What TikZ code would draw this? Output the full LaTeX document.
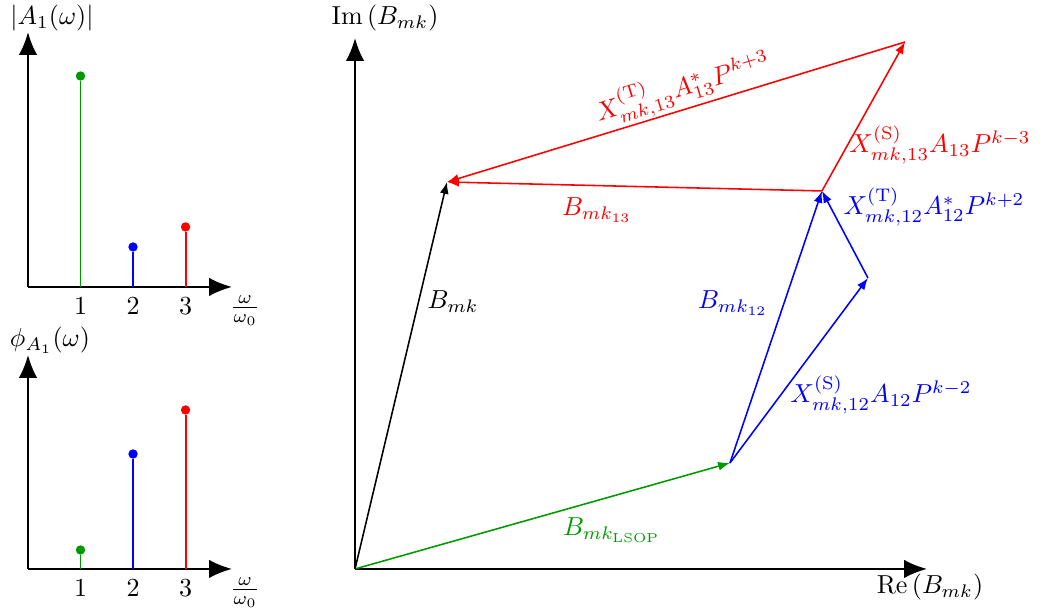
\documentclass[tikz,border=0pt]{standalone}
\usepackage{amsmath}
\usepackage{tikz}
\usetikzlibrary{arrows.meta,positioning}
\definecolor{lsop}{rgb}{0,0.6,0}
\tikzset{
  axis/.style={-{Latex[length=3.1mm,width=2.5mm]},thick,draw=black},
  vec/.style={-{Latex[length=1.6mm,width=1.2mm]},semithick,draw=#1},
  vec/.default=black,
  stem/.style={line width=0.75pt,draw=#1},
  dot/.style={circle,fill=#1,inner sep=0pt,minimum size=3.6pt},
  lab/.style={text=#1,inner sep=1pt},
  lab/.default=black,
}

\begin{document}
\begin{tikzpicture}[x=1cm,y=1cm]
  \useasboundingbox (0,0) rectangle (14.108,8.262);
  % amplitude spectrum
  \begin{scope}[shift={(0.378,4.388)}]
    \coordinate (a0) at (0,0);
    \coordinate (ax) at (2.754,0);
    \coordinate (ay) at (0,3.442);
    \draw[axis] (a0) -- (ax);
    \draw[axis] (a0) -- (ay);
    \foreach \k/\h/\c in {1/2.848/lsop,2/0.540/blue,3/0.810/red}{
      \coordinate (ab\k) at (0.709*\k,0);
      \node[dot=\c] (at\k) at (0.709*\k,\h) {};
      \draw[stem=\c] (ab\k) -- (at\k);
      \node[lab] (an\k) at (0.709*\k,-0.265) {$\k$};
    }
    \node[lab] (axl) at (2.93,-0.32) {$\frac{\omega}{\omega_0}$};
    \node[lab] (ayl) at (0.324,3.631) {$|A_1(\omega)|$};
  \end{scope}
  % phase spectrum
  \begin{scope}[shift={(0.378,0.581)}]
    \coordinate (p0) at (0,0);
    \coordinate (px) at (2.754,0);
    \coordinate (py) at (0,2.889);
    \draw[axis] (p0) -- (px);
    \draw[axis] (p0) -- (py);
    \foreach \k/\h/\c in {1/0.256/lsop,2/1.552/blue,3/2.146/red}{
      \coordinate (pb\k) at (0.709*\k,0);
      \node[dot=\c] (pt\k) at (0.709*\k,\h) {};
      \draw[stem=\c] (pb\k) -- (pt\k);
      \node[lab] (pn\k) at (0.709*\k,-0.265) {$\k$};
    }
    \node[lab] (pxl) at (2.93,-0.32) {$\frac{\omega}{\omega_0}$};
    \node[lab] (pyl) at (0.297,3.091) {$\phi_{A_1}(\omega)$};
  \end{scope}
  % complex plane
  \begin{scope}[shift={(4.793,0.581)}]
    \coordinate (O) at (0,0);
    \coordinate (re) at (7.722,0);
    \coordinate (im) at (0,7.168);
    \draw[axis] (O) -- (re);
    \draw[axis] (O) -- (im);
    \node[lab] (rel) at (7.762,-0.243) {$\mathrm{Re}\left(B_{mk}\right)$};
    \node[lab] (iml) at (0.405,7.438) {$\mathrm{Im}\left(B_{mk}\right)$};
    % vector tips
    \coordinate (lsop) at (5.062,1.431);
    \coordinate (bmk) at (1.242,5.224);
    \coordinate (b12) at (6.304,5.103);
    \coordinate (s12) at (6.925,3.928);
    \coordinate (s13) at (7.425,7.114);
    \draw[vec=lsop] (O) -- (lsop);
    \draw[vec] (O) -- (bmk);
    \draw[vec=blue] (lsop) -- (b12);
    \draw[vec=blue] (lsop) -- (s12);
    \draw[vec=blue] (s12) -- (b12);
    \draw[vec=red] (b12) -- (bmk);
    \draw[vec=red] (b12) -- (s13);
    \draw[vec=red] (s13) -- (bmk);
    % labels
    \node[lab=lsop] (llsop) at (3.469,0.526) {$B_{mk_{\mathrm{LSOP}}}$};
    \node[lab] (lbmk) at (1.323,3.604) {$B_{mk}$};
    \node[lab=blue] (lb12) at (5.103,3.591) {$B_{mk_{12}}$};
    \node[lab=blue] (ls12) at (7.101,2.349) {$X^{(\mathrm{S})}_{mk,12}A_{12}P^{k-2}$};
    \node[lab=blue] (lt12) at (7.816,4.887) {$X^{(\mathrm{T})}_{mk,12}A^{*}_{12}P^{k+2}$};
    \node[lab=red] (lb13) at (3.267,4.846) {$B_{mk_{13}}$};
    \node[lab=red] (ls13) at (7.897,5.724) {$X^{(\mathrm{S})}_{mk,13}A_{13}P^{k-3}$};
    \node[lab=red,rotate=17] (lt13) at (4.428,6.493) {$X^{(\mathrm{T})}_{mk,13}A^{*}_{13}P^{k+3}$};
  \end{scope}
\end{tikzpicture}
\end{document}
